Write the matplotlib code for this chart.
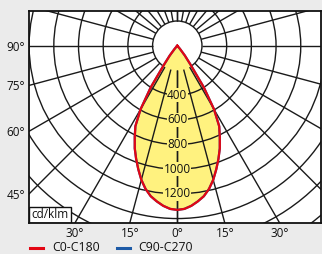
import numpy as np
import matplotlib
matplotlib.use('Agg')
import matplotlib.pyplot as plt
from matplotlib.patches import Circle, Rectangle, Polygon
from matplotlib.lines import Line2D

# luminous intensity (cd/klm) vs gamma angle
gamma = [0, 2.5, 5, 7.5, 10, 12.5, 15, 17.5, 20, 22.5, 25, 27.5, 30, 32.5, 35, 37.5, 40, 42.5, 45, 90]
c0_c180 = [1330, 1323, 1302, 1272, 1238, 1188, 1125, 1050, 975, 900, 815, 735, 595, 400, 185, 100, 35, 5, 0, 0]
c90_c270 = [1330, 1323, 1302, 1272, 1238, 1188, 1125, 1050, 975, 900, 815, 735, 595, 400, 185, 100, 35, 5, 0, 0]

ring_values = [200, 400, 600, 800, 1000, 1200, 1400, 1600, 1800, 2000]
ring_labels = [400, 600, 800, 1000, 1200]
spoke_angles = [0, 15, 30, 45, 60, 75, 90, 105, 120, 130, 140, 150, 160, 170, 180]
left_ticks = [90, 75, 60, 45]
bottom_ticks = [-30, -15, 0, 15, 30]

RED = '#e30613'
BLUE = '#1d5aa6'
YELLOW = '#fff27f'
GRID = '#1a1a1a'
BG = '#ebebeb'

plt.rcParams['font.family'] = ['Open Sans', 'DejaVu Sans']


def curve_xy(angles, values):
    # both halves of a C plane, 0 deg pointing down
    g = np.radians(np.array(angles, dtype=float))
    v = np.array(values, dtype=float)
    g_full = np.concatenate([-g[::-1], g[1:]])
    v_full = np.concatenate([v[::-1], v[1:]])
    return v_full * np.sin(g_full), -v_full * np.cos(g_full)


fig = plt.figure(figsize=(3.22, 2.54), dpi=100, facecolor=BG)
ax = fig.add_axes([29 / 322, 31 / 254, 292 / 322, 212 / 254])
ax.set_facecolor('white')
xmin, xmax = -1201, 1164
ymin, ymax = -1436, 281
ax.set_xlim(xmin, xmax)
ax.set_ylim(ymin, ymax)

# inner circle (under the fill)
ax.add_patch(Circle((0, 0), ring_values[0], fc='white', ec=GRID, lw=1.0, zorder=1.2))

# rings and spokes
for r in ring_values[1:]:
    ax.add_patch(Circle((0, 0), r, fill=False, ec=GRID, lw=1.0, zorder=2))
for a in spoke_angles:
    t = np.radians(a)
    for s in (1, -1):
        ax.plot([s * ring_values[0] * np.sin(t), s * 3000 * np.sin(t)],
                [-ring_values[0] * np.cos(t), -3000 * np.cos(t)],
                color=GRID, lw=1.0, zorder=2, solid_capstyle='butt')

# distribution curves
x0, y0 = curve_xy(gamma, c0_c180)
x9, y9 = curve_xy(gamma, c90_c270)
ax.add_patch(Polygon(np.column_stack([x0, y0]), closed=True, fc=YELLOW, ec='none', zorder=1.5))
ax.plot(x9, y9, color=BLUE, lw=1.6, zorder=3.5)
ax.plot(x0, y0, color=RED, lw=1.6, zorder=4)

for v in ring_labels:
    ax.text(0, -v, str(v), ha='center', va='center', fontsize=8.5, color='#111111', zorder=3,
            bbox=dict(fc=YELLOW, ec='none', pad=0.3))

# axis labels where spokes meet the frame
ax.set_yticks([xmin / np.tan(np.radians(a)) for a in left_ticks])
ax.set_yticklabels([f'{a}°' for a in left_ticks])
ax.set_xticks([-ymin * np.tan(np.radians(a)) for a in bottom_ticks])
ax.set_xticklabels([f'{abs(a)}°' for a in bottom_ticks])
ax.tick_params(length=0, labelsize=8.5, colors='#111111', pad=3)

for sp in ax.spines.values():
    sp.set_linewidth(1.3)
    sp.set_color('#111111')
    sp.set_zorder(6)

# unit box
ax.add_patch(Rectangle((0, 0), 42 / 292, 16 / 212, transform=ax.transAxes,
                       fc='white', ec='#111111', lw=1.0, zorder=5))
ax.text(21 / 292, 8 / 212, 'cd/klm', transform=ax.transAxes, ha='center', va='center',
        fontsize=8.5, color='#111111', zorder=6)

# legend below the chart
ly = 1 - 247.5 / 254
fig.add_artist(Line2D([30 / 322, 43 / 322], [ly, ly], color=RED, lw=2.2))
fig.text(52 / 322, 1 - 251.3 / 254, 'C0-C180', fontsize=8.8, va='baseline', color='#111111')
fig.add_artist(Line2D([117 / 322, 130 / 322], [ly, ly], color=BLUE, lw=2.2))
fig.text(138 / 322, 1 - 251.3 / 254, 'C90-C270', fontsize=8.8, va='baseline', color='#111111')

fig.savefig('out.png', dpi=100, facecolor=BG)
